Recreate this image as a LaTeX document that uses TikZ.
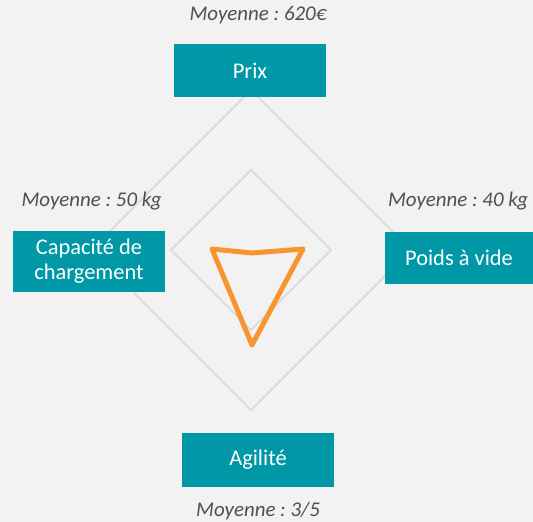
\documentclass[tikz,border=0pt]{standalone}
\usepackage{fontspec}
\setmainfont{Carlito}
\frenchspacing
\definecolor{tealbox}{RGB}{0,151,167}
\definecolor{notegray}{RGB}{80,80,80}
\definecolor{gridgray}{RGB}{217,217,217}
\definecolor{radarorange}{RGB}{247,150,47}
\definecolor{bggray}{RGB}{242,242,242}
\begin{document}
\begin{tikzpicture}
		[x=1bp,y=-1bp,
		boxstyle/.style={rectangle,fill=tealbox,text=white,inner sep=0pt,
minimum width=152bp,minimum height=53bp,align=center,font=\fontsize{22.5}{25}\selectfont},
		notestyle/.style={text=notegray,inner sep=0pt,font=\fontsize{21}{24}\selectfont\itshape},
		gridstyle/.style={draw=gridgray,line width=1.5bp},
		radarstyle/.style={draw=radarorange,line width=5bp,line join=round,line cap=round}]
		\fill[bggray] (0,0) rectangle (533,522);
		\useasboundingbox (0,0) rectangle (533,522);
		% grid
		\draw[gridstyle] (251,90) -- (411,250) -- (251,410) -- (91,250) -- cycle;
		\draw[gridstyle] (251,170) -- (331,250) -- (251,330) -- (171,250) -- cycle;
		% values
		\coordinate (p1) at (252,253);
		\coordinate (p2) at (303,249);
		\coordinate (p3) at (252,345);
		\coordinate (p4) at (212,249);
		\draw[radarstyle] (p1) -- (p2) -- (p3) -- (p4) -- cycle;
		% axes
		\node at (250,70.5) (prix) [boxstyle] {Prix};
		\node at (89,261.5) (capa) [boxstyle,minimum height=61bp] {Capacité de\\chargement};
		\node at (459,258) (poids) [boxstyle,minimum width=148bp,minimum height=52bp] {Poids à vide};
		\node at (258,460) (agil) [boxstyle,minimum height=54bp] {Agilité};
		\node at (258,15) (m1) [notestyle] {Moyenne : 620€};
		\node at (91.5,201) (m4) [notestyle] {Moyenne : 50 kg};
		\node at (458,201) (m2) [notestyle] {Moyenne : 40 kg};
		\node at (258,511) (m3) [notestyle] {Moyenne : 3/5};
	\end{tikzpicture}
\end{document}
